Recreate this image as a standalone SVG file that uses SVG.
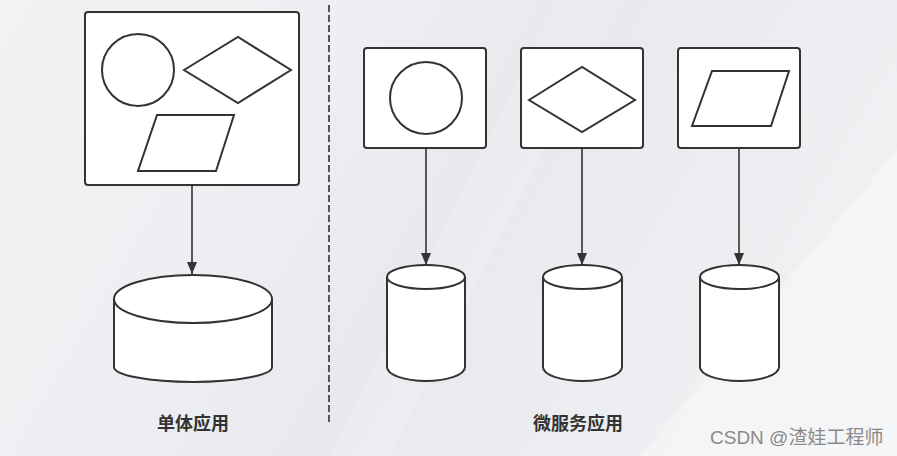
<svg xmlns="http://www.w3.org/2000/svg" width="897" height="456" viewBox="0 0 897 456">
<defs>
<linearGradient id="bg" x1="0" y1="0" x2="1" y2="0.3">
<stop offset="0" stop-color="#f2f2f3"/>
<stop offset="0.4" stop-color="#eceef1"/>
<stop offset="0.6" stop-color="#e7e9ed"/>
<stop offset="1" stop-color="#eef0f2"/>
</linearGradient>
<marker id="ah" markerWidth="12" markerHeight="10" refX="12" refY="5" orient="auto" markerUnits="userSpaceOnUse" viewBox="0 0 12 10">
<path d="M0,0 L12,5 L0,10 Z" fill="#333"/>
</marker>
<style>
.box{fill:#fff;stroke:#333;stroke-width:2}
.sh{fill:none;stroke:#333;stroke-width:2}
.cyl{fill:#fff;stroke:#333;stroke-width:2}
.con{stroke:#333;stroke-width:1.6;fill:none}
.lbl{font-family:"Noto Sans CJK SC","Noto Sans",sans-serif;font-size:18px;font-weight:bold;fill:#333;text-anchor:middle}
.wm{font-family:"Liberation Sans","Noto Sans CJK SC",sans-serif;font-size:19px;fill:#8a8a8a}
</style>
</defs>
<rect width="897" height="456" fill="url(#bg)"/>
<polygon points="640,456 897,150 897,456" fill="#ffffff" opacity="0.35"/>
<polygon points="330,456 560,0 620,0 390,456" fill="#ffffff" opacity="0.15"/>
<line x1="329" y1="5" x2="329" y2="422" stroke="#555" stroke-width="2" stroke-dasharray="7,3"/>

<g id="mono-app">
<rect class="box" x="85" y="12" width="214" height="173" rx="3"/>
<circle class="sh" cx="138" cy="70" r="36"/>
<polygon class="sh" points="184,70 238,37 291,70 238,103"/>
<polygon class="sh" points="157,115 234,115 216,171 138,171"/>
</g>
<g id="mono-db">
<path class="cyl" d="M114,299 L114,367 A79,15 0 0 0 272,367 L272,299 A79,24 0 0 0 114,299 Z"/>
<path class="sh" d="M114,299 A79,24 0 0 0 272,299"/>
</g>
<g id="svc1">
<rect class="box" x="364" y="48" width="122" height="100" rx="3"/>
<circle class="sh" cx="426" cy="98" r="36"/>
</g>
<g id="svc2">
<rect class="box" x="521" y="48" width="122" height="100" rx="3"/>
<polygon class="sh" points="529,100 582,67 635,100 582,132"/>
</g>
<g id="svc3">
<rect class="box" x="678" y="48" width="122" height="100" rx="3"/>
<polygon class="sh" points="712,71 789,71 771,126 692,126"/>
</g>
<g id="db1">
<path class="cyl" d="M387,277 L387,367 A39,14 0 0 0 465,367 L465,277 A39,12 0 0 0 387,277 Z"/>
<path class="sh" d="M387,277 A39,12 0 0 0 465,277"/>
</g>
<g id="db2">
<path class="cyl" d="M543,277 L543,367 A39.5,14 0 0 0 622,367 L622,277 A39.5,12 0 0 0 543,277 Z"/>
<path class="sh" d="M543,277 A39.5,12 0 0 0 622,277"/>
</g>
<g id="db3">
<path class="cyl" d="M700,277 L700,367 A39.5,14 0 0 0 779,367 L779,277 A39.5,12 0 0 0 700,277 Z"/>
<path class="sh" d="M700,277 A39.5,12 0 0 0 779,277"/>
</g>
<g id="connectors">
<line class="con" x1="192" y1="185" x2="192" y2="274" marker-end="url(#ah)"/>
<line class="con" x1="426" y1="148" x2="426" y2="265" marker-end="url(#ah)"/>
<line class="con" x1="582" y1="148" x2="582" y2="265" marker-end="url(#ah)"/>
<line class="con" x1="739" y1="148" x2="739" y2="265" marker-end="url(#ah)"/>
</g>
<text class="lbl" x="193" y="430">单体应用</text>
<text class="lbl" x="578" y="430">微服务应用</text>
<text class="wm" x="710" y="444">CSDN @渣娃工程师</text>
</svg>
